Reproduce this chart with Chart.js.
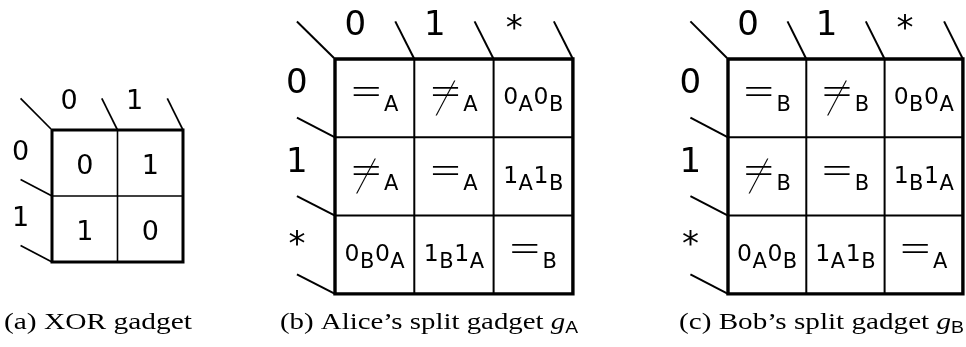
<!DOCTYPE html>
<html><head><meta charset="utf-8">
<script src="https://cdn.jsdelivr.net/npm/chart.js@4"></script>
<style>html,body{margin:0;padding:0;background:#fff;}canvas{display:block}</style>
</head><body>
<canvas id="c" width="966" height="347"></canvas>
<script>
// ---------- data ----------
const xorCols = ['0', '1'];
const xorRows = ['0', '1'];
const xorCells = [['0', '1'], ['1', '0']];
const splitCols = ['0', '1', '*'];
const splitRows = ['0', '1', '*'];
const aliceCells = [
  ['=_A', '≠_A', '0_A0_B'],
  ['≠_A', '=_A', '1_A1_B'],
  ['0_B0_A', '1_B1_A', '=_B']
];
const bobCells = [
  ['=_B', '≠_B', '0_B0_A'],
  ['≠_B', '=_B', '1_B1_A'],
  ['0_A0_B', '1_A1_B', '=_A']
];
const captionTexts = ['(a) XOR gadget', '(b) Alice’s split gadget ', '(c) Bob’s split gadget '];
const captionVars = ['', 'g', 'g'];
const captionSubs = ['', 'A', 'B'];

// ---------- layout ----------
const gadgets = [
  {cols: xorCols, rows: xorRows, cells: xorCells, left: 52, top: 130, cw: 65.5, ch: 66,
   labelPx: 27, cellPx: 27, subPx: 22, symPx: 34, outerW: 3, innerW: 1.6, slantW: 1.7, textDy: 1.5, subDy: 7, gap: 0, rowLab: 0.2},
  {cols: splitCols, rows: splitRows, cells: aliceCells, left: 335, top: 59, cw: 79.3, ch: 78.3,
   labelPx: 34, cellPx: 23.5, subPx: 21, symPx: 36, outerW: 3.4, innerW: 2, slantW: 2, textDy: -2.5, subDy: 7, gap: 0.5, rowLab: 0.22},
  {cols: splitCols, rows: splitRows, cells: bobCells, left: 728, top: 59, cw: 78.3, ch: 78.3,
   labelPx: 34, cellPx: 23.5, subPx: 21, symPx: 36, outerW: 3.4, innerW: 2, slantW: 2, textDy: -2.5, subDy: 7, gap: 0.5, rowLab: 0.22}
];
const captionLayout = [{x: 4, w: 188}, {x: 280, w: 298}, {x: 679, w: 285}];
const captionBaseline = 329;
const TT = '"DejaVu Sans"';
const SERIF = '"Liberation Serif"';
const SANS = '"Liberation Sans"';

// ---------- line datasets built from layout ----------
const datasets = [];
function seg(pts, w) {
  datasets.push({data: pts.map(([x, y]) => ({x, y})), showLine: true, borderColor: '#000',
    borderWidth: w, pointRadius: 0, pointHoverRadius: 0, fill: false, tension: 0,
    borderCapStyle: 'butt', borderJoinStyle: 'miter', clip: false});
}
gadgets.forEach(g => {
  const nC = g.cols.length, nR = g.rows.length;
  const L = g.left, T = g.top, R = L + nC * g.cw, B = T + nR * g.ch;
  for (let j = 1; j < nC; j++) seg([[L + j * g.cw, T], [L + j * g.cw, B]], g.innerW);
  for (let i = 1; i < nR; i++) seg([[L, T + i * g.ch], [R, T + i * g.ch]], g.innerW);
  seg([[L, T], [R, T], [R, B], [L, B], [L, T]], g.outerW);
  seg([[L - 0.48 * g.cw, T - 0.48 * g.ch], [L, T]], g.slantW);
  for (let j = 1; j <= nC; j++) seg([[L + j * g.cw - 0.24 * g.cw, T - 0.48 * g.ch], [L + j * g.cw, T]], g.slantW);
  for (let i = 1; i <= nR; i++) seg([[L - 0.48 * g.cw, T + i * g.ch - 0.25 * g.ch], [L, T + i * g.ch]], g.slantW);
});

// ---------- text plugin ----------
function centeredGlyph(ctx, s, px, py) {
  const m = ctx.measureText(s);
  const w = m.actualBoundingBoxRight + m.actualBoundingBoxLeft;
  const h = m.actualBoundingBoxAscent + m.actualBoundingBoxDescent;
  ctx.fillText(s, px - w / 2 + m.actualBoundingBoxLeft, py - h / 2 + m.actualBoundingBoxAscent);
}
function drawSymbol(ctx, c, g) {
  // '=' glyph; '≠' is the '=' glyph crossed by a long, thin '/' glyph
  ctx.font = `${g.symPx}px ${SERIF}`;
  ctx.save(); ctx.scale(1.5, 1); ctx.fillText('=', 0, 0); ctx.restore();
  if (c === '≠') {
    const w = ctx.measureText('=').width * 1.5;
    ctx.save();
    ctx.font = `${g.symPx * 1.45}px ${SERIF}`;
    const m = ctx.measureText('/');
    ctx.translate(w / 2, -0.17 * g.symPx);
    ctx.transform(0.5, 0, -0.36, 1, 0, 0);
    const sw = m.actualBoundingBoxRight + m.actualBoundingBoxLeft;
    const sh = m.actualBoundingBoxAscent + m.actualBoundingBoxDescent;
    ctx.fillText('/', -sw / 2 + m.actualBoundingBoxLeft, -sh / 2 + m.actualBoundingBoxAscent);
    ctx.restore();
  }
}
function drawCell(ctx, str, cx, cy, g) {
  const toks = [];
  for (let k = 0; k < str.length; k++) {
    if (str[k] === '_') { toks.push({c: str[k + 1], sub: true}); k++; }
    else toks.push({c: str[k], sub: false});
  }
  const items = toks.map(t => {
    const sym = (t.c === '=' || t.c === '≠');
    let w;
    if (sym) { ctx.font = `${g.symPx}px ${SERIF}`; w = ctx.measureText('=').width * 1.5 + 2; }
    else { ctx.font = `${t.sub ? g.subPx : g.cellPx}px ${TT}`; w = ctx.measureText(t.c).width; }
    return {...t, sym, w};
  });
  const total = items.reduce((a, b) => a + b.w, 0) + g.gap * (items.length - 1);
  let x = cx - total / 2;
  const base = cy + 0.365 * g.cellPx + g.textDy;
  items.forEach(it => {
    ctx.save();
    ctx.translate(x, base + (it.sub ? g.subDy : 0));
    if (it.sym) drawSymbol(ctx, it.c, g);
    else { ctx.font = `${it.sub ? g.subPx : g.cellPx}px ${TT}`; ctx.fillText(it.c, 0, 0); }
    ctx.restore();
    x += it.w + g.gap;
  });
}
const textPlugin = {
  id: 'gadgetText',
  afterDatasetsDraw(chart) {
    const ctx = chart.ctx, xs = chart.scales.x, ys = chart.scales.y;
    ctx.save();
    ctx.fillStyle = '#000';
    ctx.textAlign = 'left';
    ctx.textBaseline = 'alphabetic';
    gadgets.forEach(g => {
      ctx.font = `${g.labelPx}px ${TT}`;
      g.cols.forEach((lab, j) => centeredGlyph(ctx, lab,
        xs.getPixelForValue(g.left + (j + 0.5) * g.cw - 0.24 * g.cw),
        ys.getPixelForValue(g.top - 0.47 * g.ch)));
      ctx.font = `${g.labelPx}px ${TT}`;
      g.rows.forEach((lab, i) => centeredGlyph(ctx, lab,
        xs.getPixelForValue(g.left - 0.48 * g.cw),
        ys.getPixelForValue(g.top + (i + 0.5) * g.ch - g.rowLab * g.ch)));
      g.cells.forEach((row, i) => row.forEach((cell, j) => drawCell(ctx, cell,
        xs.getPixelForValue(g.left + (j + 0.5) * g.cw),
        ys.getPixelForValue(g.top + (i + 0.5) * g.ch), g)));
    });
    // captions
    captionTexts.forEach((txt, k) => {
      const fMain = `24px ${SERIF}`, fVar = `italic 24px ${SERIF}`, fSub = `16px ${SANS}`;
      ctx.font = fMain; const w1 = ctx.measureText(txt).width;
      ctx.font = fVar; const w2 = captionVars[k] ? ctx.measureText(captionVars[k]).width : 0;
      ctx.font = fSub; const w3 = captionSubs[k] ? ctx.measureText(captionSubs[k]).width : 0;
      const sx = captionLayout[k].w / (w1 + w2 + w3);
      ctx.save();
      ctx.translate(xs.getPixelForValue(captionLayout[k].x), ys.getPixelForValue(captionBaseline));
      ctx.scale(sx, 1);
      ctx.font = fMain; ctx.fillText(txt, 0, 0);
      if (captionVars[k]) { ctx.font = fVar; ctx.fillText(captionVars[k], w1, 0); }
      if (captionSubs[k]) { ctx.font = fSub; ctx.fillText(captionSubs[k], w1 + w2, 4); }
      ctx.restore();
    });
    ctx.restore();
  }
};

new Chart(document.getElementById('c'), {
  type: 'scatter',
  data: {datasets},
  options: {
    responsive: false, animation: false, events: [],
    layout: {padding: 0},
    plugins: {legend: {display: false}, tooltip: {enabled: false}, title: {display: false}},
    scales: {
      x: {type: 'linear', min: 0, max: 966, display: false},
      y: {type: 'linear', min: 0, max: 347, reverse: true, display: false}
    }
  },
  plugins: [textPlugin]
});
</script>
</body></html>
